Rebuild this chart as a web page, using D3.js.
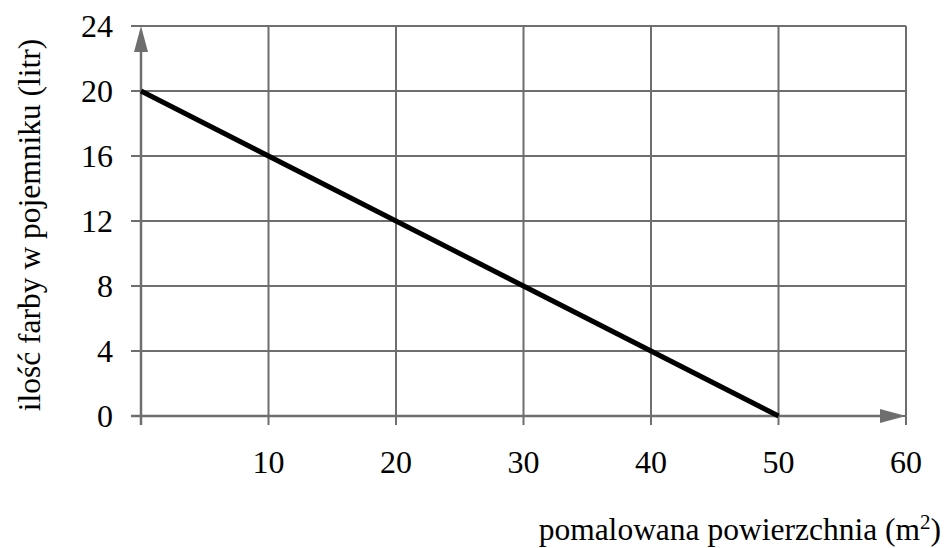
<!DOCTYPE html>
<html>
<head>
<meta charset="utf-8">
<script src="https://cdn.jsdelivr.net/npm/d3@7"></script>
<style>
  body { margin: 0; background: #fff; }
</style>
</head>
<body>
<div id="chart"></div>
<script>
// data
var area = [0, 50];          // pomalowana powierzchnia (m2)
var paint = [20, 0];         // ilosc farby (litr)
var xTicks = [10, 20, 30, 40, 50, 60];
var yTicks = [0, 4, 8, 12, 16, 20, 24];

var w = 944, h = 548;
var grey = "#6e6e6e";
var font = "'Liberation Serif', 'Times New Roman', Times, serif";

var xScale = d3.scaleLinear().domain([0, 60]).range([141, 906]);
var yScale = d3.scaleLinear().domain([0, 24]).range([416, 26]);

var svg = d3.select("#chart")
            .append("svg")
            .attr("width", w)
            .attr("height", h)
            .style("font-family", font);

// horizontal grid lines
svg.selectAll("line.hgrid")
    .data(yTicks)
    .enter()
    .append("line")
    .attr("class", "hgrid")
    .attr("x1", 131)
    .attr("x2", xScale(60))
    .attr("y1", function(d){ return yScale(d); })
    .attr("y2", function(d){ return yScale(d); })
    .attr("stroke", grey)
    .attr("stroke-width", 2);

// vertical grid lines
svg.selectAll("line.vgrid")
    .data(xTicks)
    .enter()
    .append("line")
    .attr("class", "vgrid")
    .attr("x1", function(d){ return xScale(d); })
    .attr("x2", function(d){ return xScale(d); })
    .attr("y1", yScale(24))
    .attr("y2", yScale(0) + 9)
    .attr("stroke", grey)
    .attr("stroke-width", 2);

// y axis with arrow
svg.append("line")
    .attr("x1", xScale(0)).attr("x2", xScale(0))
    .attr("y1", yScale(0) + 9).attr("y2", yScale(24) + 20)
    .attr("stroke", grey).attr("stroke-width", 2.5);
svg.append("path")
    .attr("d", "M" + (xScale(0) - 7) + "," + (yScale(24) + 26) +
               "L" + xScale(0) + "," + yScale(24) +
               "L" + (xScale(0) + 7) + "," + (yScale(24) + 26) + "Z")
    .attr("fill", grey);

// x axis with arrow
svg.append("line")
    .attr("x1", 131).attr("x2", xScale(60) - 20)
    .attr("y1", yScale(0)).attr("y2", yScale(0))
    .attr("stroke", grey).attr("stroke-width", 2.5);
svg.append("path")
    .attr("d", "M" + (xScale(60) - 26) + "," + (yScale(0) - 7) +
               "L" + xScale(60) + "," + yScale(0) +
               "L" + (xScale(60) - 26) + "," + (yScale(0) + 7) + "Z")
    .attr("fill", grey);

// data line
var line = d3.line()
    .x(function(d, i){ return xScale(area[i]); })
    .y(function(d){ return yScale(d); });

svg.append("path")
    .datum(paint)
    .attr("d", line)
    .attr("fill", "none")
    .attr("stroke", "#000")
    .attr("stroke-width", 5);

// tick labels
svg.selectAll("text.ylab")
    .data(yTicks)
    .enter()
    .append("text")
    .attr("class", "ylab")
    .attr("x", 113)
    .attr("y", function(d){ return yScale(d) + 11; })
    .attr("text-anchor", "end")
    .style("font-size", "32px")
    .text(function(d){ return d; });

svg.selectAll("text.xlab")
    .data(xTicks)
    .enter()
    .append("text")
    .attr("class", "xlab")
    .attr("x", function(d){ return xScale(d); })
    .attr("y", 473)
    .attr("text-anchor", "middle")
    .style("font-size", "32px")
    .text(function(d){ return d; });

// axis titles
var xt = svg.append("text")
    .attr("x", 941)
    .attr("y", 540)
    .attr("text-anchor", "end")
    .style("font-size", "31.5px");
xt.append("tspan").text("pomalowana powierzchnia (m");
xt.append("tspan").attr("dy", -11).style("font-size", "21px").text("2");
xt.append("tspan").attr("dy", 11).text(")");

svg.append("text")
    .attr("transform", "translate(40," + 225 + ") rotate(-90)")
    .attr("text-anchor", "middle")
    .style("font-size", "31.5px")
    .text("ilość farby w pojemniku (litr)");
</script>
</body>
</html>
